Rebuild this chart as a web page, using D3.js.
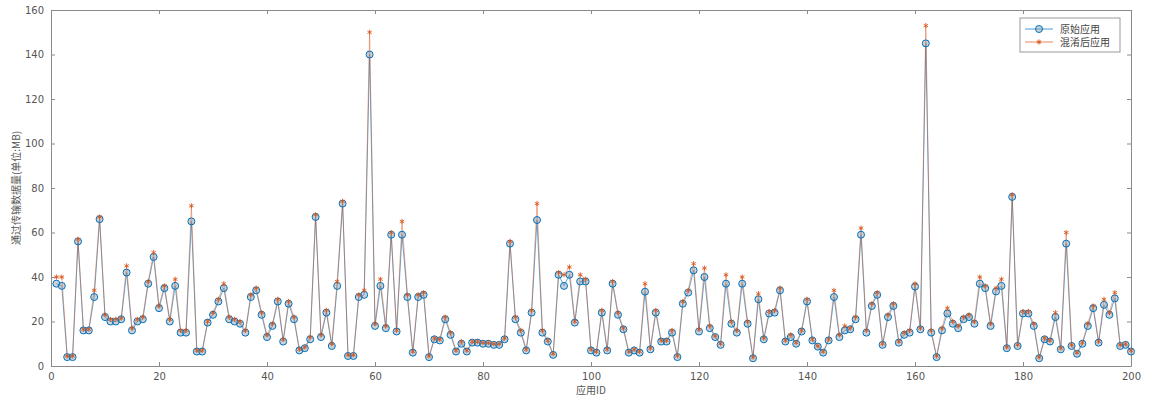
<!DOCTYPE html>
<html>
<head>
<meta charset="utf-8">
<script src="https://cdn.jsdelivr.net/npm/d3@7"></script>
<style>
  html, body { margin: 0; padding: 0; background: #fff; }
  svg { display: block; font-family: "Noto Sans CJK SC", "DejaVu Sans", sans-serif; }
</style>
</head>
<body>
<svg id="chart" width="1149" height="398"></svg>
<script>
const W = 1149;
const H = 398;
const BLUE = '#0072BD';
const RED = '#D95319';

const appIds = d3.range(1, 201);

const originalMB = [
  37, 36, 4, 4, 56, 16, 16, 31, 66, 22,
  20, 20, 21, 42, 16, 20, 21, 37, 49, 26,
  35, 20, 36, 15, 15, 65, 6.5, 6.5, 19.5, 23,
  29, 35, 21, 20, 19, 15, 31, 34, 23, 13,
  18, 29, 11, 28, 21, 7, 8, 12, 67, 13,
  24, 9, 36, 73, 4.5, 4.5, 31, 32, 140, 18,
  36, 17, 59, 15.5, 59, 31, 6, 31, 32, 4,
  12, 11.5, 21, 14, 6.5, 10, 6.5, 10.5, 10.5, 10,
  10, 9.5, 9.5, 12, 55, 21, 15, 7, 24, 65.6,
  15, 11, 5, 41, 36, 41, 19.5, 38, 38, 7,
  6, 24, 7, 37, 23, 16.5, 6, 7, 6, 33.4,
  7.5, 24, 11, 11, 15, 4, 28, 33, 43, 15.5,
  40, 17, 13, 9.5, 37, 19, 15, 37, 19, 3.5,
  30, 12, 23.6, 24, 34, 11, 13, 10, 15.5, 29,
  11.5, 8.7, 6, 11.5, 31, 13, 16, 16.5, 21, 59,
  15, 27, 32, 9.5, 22, 27, 10.5, 14, 15, 35.7,
  16.5, 145, 15, 4, 16, 23.6, 19, 17, 21, 22,
  19, 37, 35, 18, 33.5, 36, 8, 76, 9, 23.6,
  23.6, 18, 3.5, 12, 11, 22, 7.5, 55, 9, 5.5,
  10, 18, 26, 10.5, 27.5, 23, 30.4, 9, 9.5, 6.5
];

const obfuscatedMB = [
  40, 40, 4.5, 4.5, 57, 16.5, 16.5, 34, 67, 23,
  21, 21, 21.5, 45, 17, 21, 22, 38, 51, 27,
  36, 21, 39, 16, 16, 72, 7, 7, 20, 24,
  30, 37, 22, 21, 20, 16, 32, 35, 24, 14,
  19, 30, 12, 29, 22, 7.5, 8.5, 13, 68, 14,
  25, 10, 38, 74, 5, 5, 32, 34, 150, 19,
  39, 18, 60, 16, 65, 32, 6.5, 32, 33, 4.5,
  12.5, 12, 22, 15, 7, 11, 7, 11, 11, 10.5,
  10.5, 10, 10, 12.5, 56, 22, 16, 7.5, 25, 73,
  16, 11.5, 5.5, 42, 41, 44.5, 20, 41, 39, 7.5,
  6.5, 25, 7.5, 38, 24, 17, 6.5, 7.5, 6.5, 37,
  8, 25, 11.5, 11.5, 16, 4.5, 29, 34, 46, 16.5,
  44, 18, 13.5, 10, 41, 20, 16, 40, 20, 4,
  32.5, 12.5, 24.5, 25, 35, 11.5, 14, 10.5, 16, 30,
  12, 9, 6.5, 12, 34, 14, 18, 17, 22, 62,
  16, 28, 33, 10, 23, 28, 11, 15, 16, 37,
  17, 153, 16, 4.5, 17, 26, 20, 18, 22, 23,
  20, 40, 36, 19, 35, 39, 8.5, 77, 9.5, 24.5,
  24.5, 19, 4, 12.5, 11.5, 24, 8, 60, 9.5, 6,
  10.5, 19, 27, 11, 30, 24, 33, 9.5, 10, 7
];

const xTicks = [0, 20, 40, 60, 80, 100, 120, 140, 160, 180, 200];
const yTicks = [0, 20, 40, 60, 80, 100, 120, 140, 160];
const seriesNames = ['原始应用', '混淆后应用'];

const margin = { left: 51, right: 18, top: 10, bottom: 32 };
const x = d3.scaleLinear().domain([0, 200]).range([margin.left, W - margin.right]);
const y = d3.scaleLinear().domain([0, 160]).range([H - margin.bottom, margin.top]);

const svg = d3.select('#chart');

// axes (MATLAB style box with inward ticks)
const axisColor = '#8a8a8a';
const tickLen = 4;

const axBottom = svg.append('g').attr('transform', `translate(0,${y(0)})`)
  .call(d3.axisBottom(x).tickValues(xTicks).tickSizeInner(-tickLen).tickSizeOuter(0).tickPadding(7));
const axLeft = svg.append('g').attr('transform', `translate(${x(0)},0)`)
  .call(d3.axisLeft(y).tickValues(yTicks).tickSizeInner(-tickLen).tickSizeOuter(0).tickPadding(7));
const axTop = svg.append('g').attr('transform', `translate(0,${y(160)})`)
  .call(d3.axisTop(x).tickValues(xTicks).tickSizeInner(-tickLen).tickSizeOuter(0).tickFormat(''));
const axRight = svg.append('g').attr('transform', `translate(${x(200)},0)`)
  .call(d3.axisRight(y).tickValues(yTicks).tickSizeInner(-tickLen).tickSizeOuter(0).tickFormat(''));

[axBottom, axLeft, axTop, axRight].forEach((g) => {
  g.selectAll('path, line').attr('stroke', axisColor);
  g.selectAll('text').attr('fill', '#555').style('font-size', '10px')
    .style('font-family', '"DejaVu Sans", sans-serif');
});

svg.append('text').attr('x', (x(0) + x(200)) / 2).attr('y', H - 4)
  .attr('text-anchor', 'middle').attr('fill', '#555').style('font-size', '10px')
  .text('应用ID');

svg.append('text')
  .attr('transform', `translate(20,${(y(0) + y(160)) / 2}) rotate(-90)`)
  .attr('text-anchor', 'middle').attr('fill', '#555').style('font-size', '10px')
  .text('通过传输数据量(单位:MB)');

// lines
const line = (vals) => d3.line().x((d, i) => x(appIds[i])).y((d) => y(d))(vals);

svg.append('path').attr('d', line(originalMB)).attr('fill', 'none')
  .attr('stroke', BLUE).attr('stroke-width', 1).attr('stroke-opacity', 0.6);
svg.append('path').attr('d', line(obfuscatedMB)).attr('fill', 'none')
  .attr('stroke', RED).attr('stroke-width', 1).attr('stroke-opacity', 0.45);

// markers
svg.append('g').selectAll('circle').data(originalMB).enter().append('circle')
  .attr('cx', (d, i) => x(appIds[i])).attr('cy', (d) => y(d)).attr('r', 3.5)
  .attr('fill', '#8f9ba6').attr('fill-opacity', 0.45)
  .attr('stroke', BLUE).attr('stroke-width', 1);

const star = d3.symbol().type(d3.symbolAsterisk).size(18);
svg.append('g').selectAll('path').data(obfuscatedMB).enter().append('path')
  .attr('d', star).attr('transform', (d, i) => `translate(${x(appIds[i])},${y(d)})`)
  .attr('fill', 'none').attr('stroke', RED).attr('stroke-width', 1).attr('stroke-opacity', 0.85);

// legend
const lg = svg.append('g').attr('transform', 'translate(1020,18)');
lg.append('rect').attr('width', 100).attr('height', 34)
  .attr('fill', '#fff').attr('stroke', '#999').attr('stroke-width', 1);
seriesNames.forEach((name, k) => {
  const ly = 11 + k * 13;
  const col = k === 0 ? BLUE : RED;
  lg.append('line').attr('x1', 5).attr('x2', 33).attr('y1', ly).attr('y2', ly)
    .attr('stroke', col).attr('stroke-width', 1).attr('stroke-opacity', 0.7);
  if (k === 0) {
    lg.append('circle').attr('cx', 19).attr('cy', ly).attr('r', 3.5)
      .attr('fill', '#8f9ba6').attr('fill-opacity', 0.45).attr('stroke', BLUE);
  } else {
    lg.append('path').attr('d', star).attr('transform', `translate(19,${ly})`)
      .attr('fill', 'none').attr('stroke', RED);
  }
  lg.append('text').attr('x', 40).attr('y', ly + 3.5).attr('fill', '#444')
    .style('font-size', '10px').text(name);
});
</script>
</body>
</html>
